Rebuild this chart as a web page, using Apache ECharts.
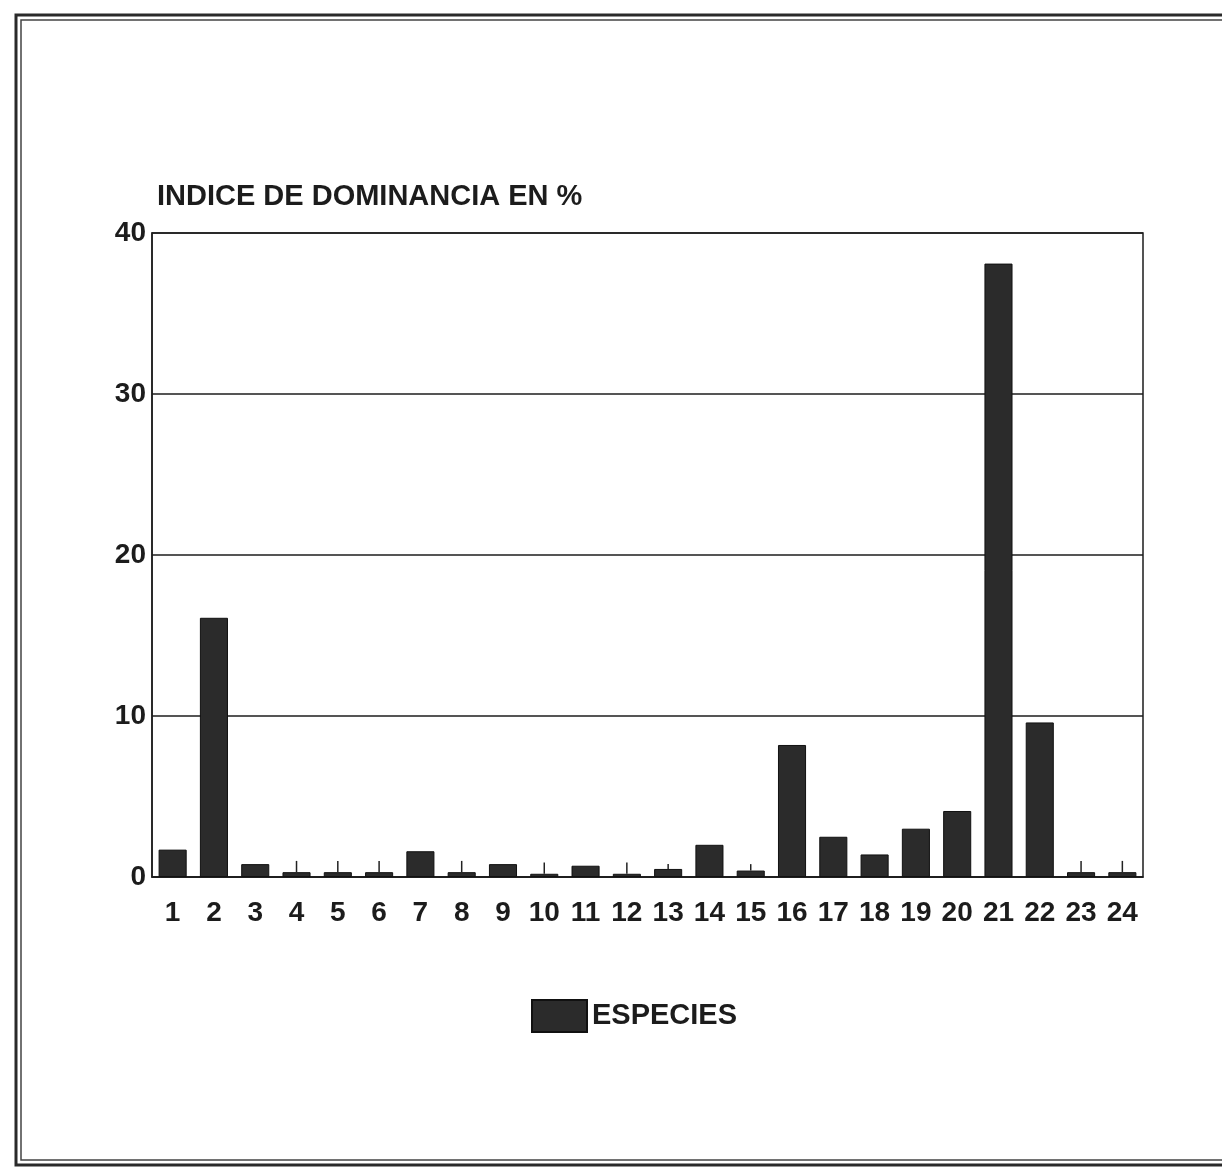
<!DOCTYPE html>
<html>
<head>
<meta charset="utf-8">
<script src="https://cdn.jsdelivr.net/npm/echarts@6/dist/echarts.min.js"></script>
<style>
html,body{margin:0;padding:0;background:#fff;}
#chart{width:1222px;height:1174px;}
</style>
</head>
<body>
<div id="chart"></div>
<script>
const categories = ['1','2','3','4','5','6','7','8','9','10','11','12','13','14','15','16','17','18','19','20','21','22','23','24'];
const especies = [1.7, 16.1, 0.8, 0.3, 0.3, 0.3, 1.6, 0.3, 0.8, 0.2, 0.7, 0.2, 0.5, 2.0, 0.4, 8.2, 2.5, 1.4, 3.0, 4.1, 38.1, 9.6, 0.3, 0.3];
const tickTop = [null, null, null, 1.0, 1.0, 1.0, null, 1.0, null, 0.9, null, 0.9, 0.8, null, 0.8, null, null, null, null, null, null, null, 1.0, 1.0];
const yTicks = [0, 10, 20, 30, 40];

const chart = echarts.init(document.getElementById('chart'));
const ink = '#1c1c1c';
const fontFam = "'Liberation Sans', Arial, sans-serif";

chart.setOption({
  animation: false,
  backgroundColor: '#ffffff',
  graphic: [
    { type: 'rect', shape: { x: 16, y: 15, width: 1230, height: 1150 }, style: { fill: 'none', stroke: '#2a2a2a', lineWidth: 3 } },
    { type: 'rect', shape: { x: 21, y: 20, width: 1220, height: 1140 }, style: { fill: 'none', stroke: '#444', lineWidth: 1.5 } },
    { type: 'text', left: 157, top: 182, style: { text: 'INDICE DE DOMINANCIA EN %', font: "bold 29px 'Liberation Sans', Arial, sans-serif", fill: ink } }
  ],
  legend: {
    data: ['ESPECIES'],
    left: 526, top: 994,
    itemWidth: 55, itemHeight: 32, itemGap: 8,
    icon: 'rect',
    textStyle: { fontFamily: fontFam, fontSize: 29, fontWeight: 'bold', color: ink }
  },
  grid: { left: 152, right: 79, top: 233, bottom: 297, show: true, borderColor: ink, borderWidth: 1.5, backgroundColor: 'transparent' },
  xAxis: {
    type: 'category',
    data: categories,
    boundaryGap: true,
    axisLine: { lineStyle: { color: ink, width: 1.5 } },
    axisTick: { show: false },
    axisLabel: { margin: 22, fontFamily: fontFam, fontSize: 28, fontWeight: 'bold', color: ink, interval: 0 }
  },
  yAxis: {
    type: 'value',
    min: yTicks[0], max: yTicks[yTicks.length - 1], interval: 10,
    axisLine: { show: true, lineStyle: { color: ink, width: 1.5 } },
    axisTick: { show: false },
    splitLine: { lineStyle: { color: ink, width: 1.5 } },
    axisLabel: { margin: 6, fontFamily: fontFam, fontSize: 28, fontWeight: 'bold', color: ink }
  },
  series: [
    {
      name: 'ESPECIES',
      type: 'bar',
      data: especies,
      barWidth: '68%',
      itemStyle: { color: '#2b2b2b', borderColor: '#111', borderWidth: 1 }
    },
    {
      name: 'ticks',
      type: 'custom',
      data: tickTop.map((t, i) => [i, especies[i], t]),
      renderItem: function (params, api) {
        const t = api.value(2);
        if (t === null || t === undefined || isNaN(t)) return null;
        const p0 = api.coord([api.value(0), api.value(1)]);
        const p1 = api.coord([api.value(0), t]);
        return { type: 'line', shape: { x1: p0[0], y1: p0[1], x2: p1[0], y2: p1[1] }, style: { stroke: '#222', lineWidth: 1.5 } };
      },
      z: 3
    }
  ]
});
</script>
</body>
</html>
